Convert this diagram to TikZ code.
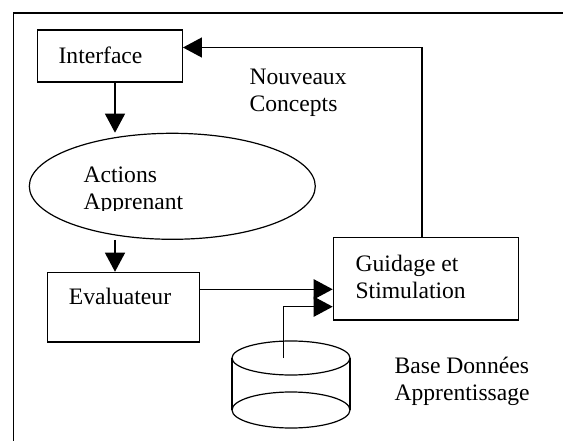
\documentclass[tikz,border=0pt]{standalone}
\usepackage{fontspec}
\setmainfont{Liberation Serif}
\usepackage{tikz}
\usetikzlibrary{arrows.meta,shapes.geometric,calc}

\begin{document}
\begin{tikzpicture}[x=1pt,y=-1pt,line width=1.2pt,
  font=\fontsize{23.6pt}{27pt}\selectfont,
  boite/.style={draw,rectangle,inner sep=0pt},
  txt/.style={anchor=base west,inner sep=0pt,align=left},
  fleche/.style={-{Triangle[length=19pt,width=20pt]}}]
 \useasboundingbox (0,0) rectangle (563,441);
 \draw[line width=1.6pt] (13.3,441) -- (13.3,13.3) -- (563,13.3);
 \node[boite,minimum width=144.7pt,minimum height=52pt] (interface) at (110,56) {};
 \node[txt] (tinterface) at (58,64) {Interface};
 \node[draw,ellipse,inner sep=0pt,minimum width=286pt,minimum height=106pt] (actions) at (172.3,186.3) {};
 \begin{scope}
  \clip (60,150) rectangle (300,210.5);
  \node[txt] (tactions) at (83,210) {Actions\\Apprenant};
 \end{scope}
 \node[boite,minimum width=151.6pt,minimum height=69.7pt] (evaluateur) at (123.5,307.2) {};
 \node[txt] (tevaluateur) at (68.3,305) {Evaluateur};
 \node[boite,minimum width=185pt,minimum height=82.3pt] (guidage) at (425.8,278.9) {};
 \node[txt] (tguidage) at (355,298.3) {Guidage et\\Stimulation};
 \node[txt] (concepts) at (249,112) {Nouveaux\\Concepts};
 \node[txt] (tbase) at (394,400) {Base Données\\Apprentissage};
 \draw (291,358) ellipse [x radius=59,y radius=17];
 \draw (291,410) ellipse [x radius=59,y radius=18];
 \draw (232,358) -- (232,410);
 \draw (350,358) -- (350,410);
 \coordinate (base) at (283.7,358);
 \draw[fleche] ([xshift=5pt]interface.south) -- ([xshift=5pt]interface.south |- actions.north);
 \draw[fleche] ([xshift=-8.5pt]evaluateur.north |- actions.south) -- ([xshift=-8.5pt]evaluateur.north);
 \draw[fleche] ([yshift=17.9pt]evaluateur.east) -- ([yshift=17.9pt]evaluateur.east -| guidage.west);
 \draw[fleche] (base) |- ([yshift=-27.8pt]guidage.west);
 \draw[fleche] ([xshift=-3.9pt]guidage.north) |- ([yshift=8.5pt]interface.east);
\end{tikzpicture}
\end{document}
